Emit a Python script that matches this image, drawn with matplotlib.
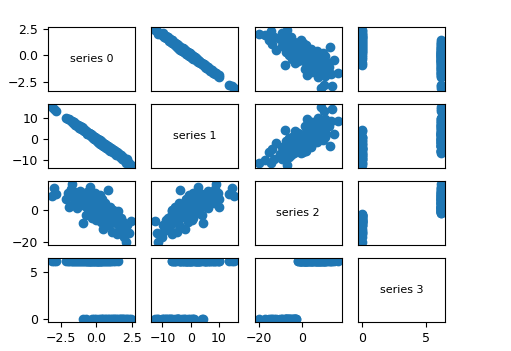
import matplotlib
matplotlib.use('Agg')
import matplotlib.pyplot as plt

# ==============================
# DATA
# ==============================

names = ["series 0", "series 1", "series 2", "series 3"]

s0 = [-3.10, -2.95, -2.80, -2.10, -2.00, -1.90, -1.80, -1.72, -1.65, -1.55,
      -1.48, -1.40, -1.35, -1.28, -1.20, -1.15, -1.10, -1.02, -0.95, -0.90,
      -0.85, -0.80, -0.75, -0.70, -0.66, -0.62, -0.58, -0.54, -0.50, -0.46,
      -0.42, -0.38, -0.35, -0.31, -0.28, -0.24, -0.20, -0.17, -0.14, -0.10,
      -0.07, -0.04, 0.00, 0.03, 0.06, 0.09, 0.12, 0.15, 0.18, 0.21,
      0.24, 0.27, 0.30, 0.33, 0.36, 0.40, 0.43, 0.47, 0.50, 0.54,
      0.58, 0.62, 0.66, 0.70, 0.74, 0.78, 0.82, 0.86, 0.90, 0.95,
      1.00, 1.05, 1.10, 1.15, 1.20, 1.25, 1.30, 1.36, 1.42, 1.48,
      1.55, 1.62, 1.70, 1.78, 1.86, 1.95, 2.05, 2.15, 2.30, 2.42]

s1 = [15.5, 14.6, 13.6, 10.2, 9.6, 9.9, 8.6, 8.9, 7.8, 8.2,
      7.0, 7.4, 6.2, 6.9, 5.5, 6.3, 5.0, 5.6, 4.3, 5.1,
      4.0, 4.6, 3.2, 3.9, 2.6, 3.4, 2.2, 3.0, 2.9, 1.8,
      2.6, 1.4, 2.3, 0.9, 1.9, 0.6, 1.5, 0.2, 1.2, -0.1,
      0.9, -0.5, 0.6, -0.8, 0.2, -1.2, -0.1, -1.5, -0.4, -1.8,
      -0.7, -2.2, -1.0, -2.5, -1.3, -2.9, -1.6, -3.3, -2.0, -3.6,
      -2.4, -4.0, -2.8, -4.4, -3.2, -4.8, -3.6, -5.2, -4.0, -5.6,
      -4.5, -6.0, -4.9, -6.5, -5.4, -7.0, -6.0, -7.6, -6.5, -6.6,
      -7.2, -8.8, -7.9, -9.5, -8.8, -10.3, -11.5, -9.8, -11.8, -12.5]

s2 = [9.0, 14.0, 10.5, 7.5, 11.0, 2.5, 13.5, 16.8, 9.5, 5.0,
      12.0, 8.0, 1.5, 10.0, 6.5, 12.5, 4.0, 8.5, -8.0, 6.0,
      10.5, 3.0, 7.0, -3.0, 11.5, 5.5, 1.0, 8.0, -1.5, 4.5,
      15.0, 2.0, 6.5, -4.5, 9.0, 3.5, 0.0, 7.5, -2.5, 5.0,
      11.0, 1.5, -6.0, 4.0, 8.5, -1.0, 2.5, 6.0, -3.5, 0.5,
      10.0, 3.0, -7.5, 1.0, 5.5, -2.8, 7.0, -0.5, -12.0, 2.0,
      -4.0, 4.5, -1.0, -6.5, 1.5, -3.0, 13.0, -0.5, -9.0, 2.0,
      -5.5, -1.5, -14.0, 0.5, -7.0, -3.5, -1.0, -8.0, -15.0, -0.5,
      -10.0, -6.0, -5.0, -13.0, -7.5, -17.0, -20.0, -9.0, -14.5, -7.0]

s3 = [6.2, 6.2, 6.2, 6.2, 6.2, 6.2, 6.2, 6.2, 6.2, 6.2,
      6.2, 6.2, 6.2, 6.2, 6.2, 6.2, 6.2, 6.2, 0.0, 6.2,
      6.2, 6.2, 6.2, 0.0, 6.2, 6.2, 6.2, 6.2, 6.2, 6.2,
      6.2, 6.2, 6.2, 0.0, 6.2, 6.2, 6.2, 6.2, 0.0, 6.2,
      6.2, 6.2, 0.0, 6.2, 6.2, 6.2, 6.2, 6.2, 0.0, 6.2,
      6.2, 6.2, 0.0, 6.2, 6.2, 0.0, 6.2, 6.2, 0.0, 6.2,
      0.0, 6.2, 6.2, 0.0, 6.2, 0.0, 6.2, 6.2, 0.0, 6.2,
      0.0, 6.2, 0.0, 6.2, 0.0, 0.0, 6.2, 0.0, 0.0, 6.2,
      0.0, 0.0, 0.0, 0.0, 0.0, 0.0, 0.0, 0.0, 0.0, 0.0]

data = [s0, s1, s2, s3]

# ==============================
# SCATTER MATRIX
# ==============================

n = len(data)
fig, axes = plt.subplots(n, n, sharex='col', sharey='row', figsize=(5.11, 3.51), dpi=100)
fig.subplots_adjust(left=0.094, right=0.871, top=0.923, bottom=0.083,
                    wspace=0.19, hspace=0.21)

for i in range(n):
    for j in range(n):
        ax = axes[i, j]
        if i == j:
            ax.text(0.5, 0.5, names[i], transform=ax.transAxes,
                    ha='center', va='center', fontsize=8)
        else:
            ax.scatter(data[j], data[i], s=36, color='C0')
        ax.tick_params(labelsize=9)
        if j != 0:
            ax.tick_params(axis='y', left=False)
        if i != n - 1:
            ax.tick_params(axis='x', bottom=False)

fig.savefig("out.png", dpi=100)
print("saved out.png")
